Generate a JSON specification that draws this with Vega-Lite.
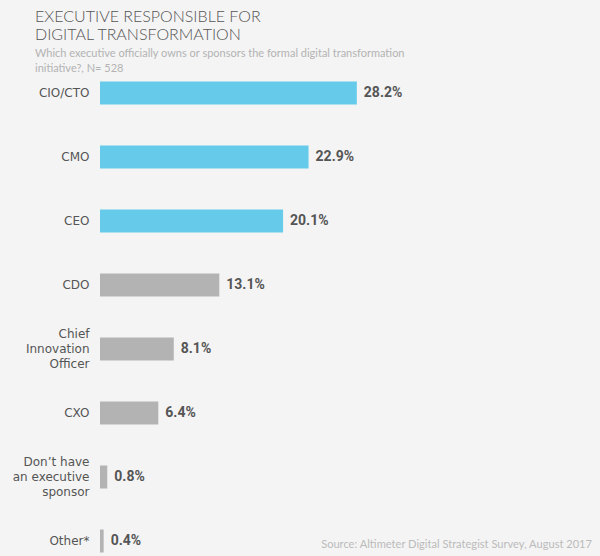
{
  "$schema": "https://vega.github.io/schema/vega-lite/v6.json",
  "autosize": {"type": "none"},
  "padding": {"left": 100, "top": 81, "right": 0, "bottom": 0},
  "width": 500,
  "height": 475,
  "background": "#f4f4f4",
  "config": {"view": {"stroke": null}, "font": "Lato"},
  "title": {
    "text": ["EXECUTIVE RESPONSIBLE FOR", "DIGITAL TRANSFORMATION"],
    "subtitle": ["Which executive officially owns or sponsors the formal digital transformation", "initiative?, N= 528"],
    "anchor": "start",
    "frame": "group",
    "dx": -65,
    "offset": 7,
    "font": "Lato",
    "fontSize": 16,
    "fontWeight": 300,
    "color": "#555555",
    "lineHeight": 18,
    "subtitleFont": "Lato",
    "subtitleFontSize": 11,
    "subtitleColor": "#b3b3b3",
    "subtitleLineHeight": 15,
    "subtitlePadding": 5
  },
  "data": {
    "values": [
      {"role": "CIO/CTO", "pct": 28.2, "label": "28.2%", "group": "top"},
      {"role": "CMO", "pct": 22.9, "label": "22.9%", "group": "top"},
      {"role": "CEO", "pct": 20.1, "label": "20.1%", "group": "top"},
      {"role": "CDO", "pct": 13.1, "label": "13.1%", "group": "rest"},
      {"role": "Chief|Innovation|Officer", "pct": 8.1, "label": "8.1%", "group": "rest"},
      {"role": "CXO", "pct": 6.4, "label": "6.4%", "group": "rest"},
      {"role": "Don’t have|an executive|sponsor", "pct": 0.8, "label": "0.8%", "group": "rest"},
      {"role": "Other*", "pct": 0.4, "label": "0.4%", "group": "rest"}
    ]
  },
  "encoding": {
    "y": {
      "field": "role",
      "type": "nominal",
      "sort": null,
      "scale": {"range": [-20, 492], "paddingInner": 0, "paddingOuter": 0},
      "axis": {
        "title": null,
        "domain": false,
        "ticks": false,
        "labelExpr": "split(datum.label, '|')",
        "labelFont": "DejaVu Sans",
        "labelFontSize": 12,
        "labelColor": "#555555",
        "labelPadding": 11,
        "labelLineHeight": 15,
        "labelOffset": {"condition": {"test": "indexof(datum.label, '|') >= 0", "value": -15}, "value": 0}
      }
    }
  },
  "layer": [
    {
      "mark": {"type": "bar", "size": 23},
      "encoding": {
        "x": {"field": "pct", "type": "quantitative", "scale": {"domain": [0, 54.9], "nice": false}, "axis": null},
        "color": {"field": "group", "type": "nominal", "scale": {"domain": ["top", "rest"], "range": ["#66cbea", "#b3b3b3"]}, "legend": null}
      }
    },
    {
      "mark": {"type": "text", "align": "left", "dx": 7, "font": "Roboto", "fontWeight": "bold", "fontSize": 14, "color": "#555555"},
      "encoding": {
        "x": {"field": "pct", "type": "quantitative"},
        "text": {"field": "label"}
      }
    },
    {
      "mark": {"type": "rule", "color": "#aaaaaa", "strokeWidth": 2},
      "encoding": {"x": {"datum": 0, "type": "quantitative"}}
    },
    {
      "data": {"values": [{"source": "Source: Altimeter Digital Strategist Survey, August 2017"}]},
      "mark": {"type": "text", "align": "right", "baseline": "middle", "dx": -8, "dy": 4, "font": "Lato", "fontSize": 11.1, "color": "#bbbbbb"},
      "encoding": {
        "x": {"datum": 54.9, "type": "quantitative"},
        "y": {"datum": "Other*"},
        "text": {"field": "source"}
      }
    }
  ]
}
